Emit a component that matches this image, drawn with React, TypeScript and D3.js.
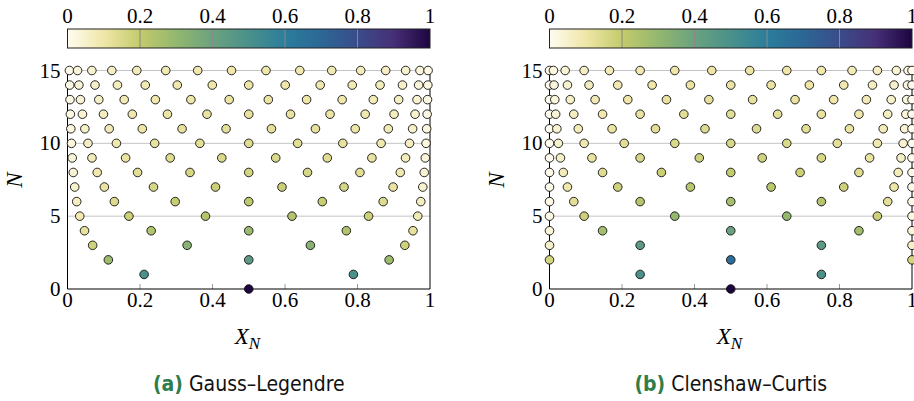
import React from 'react';
import * as d3 from 'd3';

// ---------- data ----------
const xTicks = [0, 0.2, 0.4, 0.6, 0.8, 1];
const yTicks = [0, 5, 10, 15];
const yGrid = [5, 10, 15];
const colorbarTicks = [0, 0.2, 0.4, 0.6, 0.8, 1];
const panelLetters = ['(a)', '(b)'];
const panelTitles = ['Gauss–Legendre', 'Clenshaw–Curtis'];

// Gauss–Legendre nodes on [0,1], row N has N+1 nodes
const glNodes: number[][] = [
  [0.5],
  [0.2113, 0.7887],
  [0.1127, 0.5, 0.8873],
  [0.0694, 0.33, 0.67, 0.9306],
  [0.0469, 0.2308, 0.5, 0.7692, 0.9531],
  [0.0338, 0.1694, 0.3807, 0.6193, 0.8306, 0.9662],
  [0.0254, 0.1292, 0.2971, 0.5, 0.7029, 0.8708, 0.9746],
  [0.0199, 0.1017, 0.2372, 0.4083, 0.5917, 0.7628, 0.8983, 0.9801],
  [0.0159, 0.082, 0.1933, 0.3379, 0.5, 0.6621, 0.8067, 0.918, 0.9841],
  [0.013, 0.0675, 0.1603, 0.2833, 0.4256, 0.5744, 0.7167, 0.8397, 0.9325, 0.987],
  [0.0109, 0.0565, 0.1349, 0.2405, 0.3652, 0.5, 0.6348, 0.7595, 0.8651, 0.9435, 0.9891],
  [0.0092, 0.0479, 0.115, 0.2063, 0.3161, 0.4374, 0.5626, 0.6839, 0.7937, 0.885, 0.9521, 0.9908],
  [0.0079, 0.0412, 0.0992, 0.1788, 0.2758, 0.3848, 0.5, 0.6152, 0.7242, 0.8212, 0.9008, 0.9588, 0.9921],
  [0.0069, 0.0358, 0.0864, 0.1564, 0.2424, 0.3404, 0.446, 0.554, 0.6596, 0.7576, 0.8436, 0.9136, 0.9642, 0.9931],
  [0.006, 0.0314, 0.0759, 0.1378, 0.2145, 0.3029, 0.3994, 0.5, 0.6006, 0.6971, 0.7855, 0.8622, 0.9241, 0.9686, 0.994],
  [0.0053, 0.0277, 0.0672, 0.1223, 0.1911, 0.271, 0.3592, 0.4525, 0.5475, 0.6408, 0.729, 0.8089, 0.8777, 0.9328, 0.9723, 0.9947],
];

const glWeights: number[][] = [
  [1],
  [0.5, 0.5],
  [0.2778, 0.4444, 0.2778],
  [0.1739, 0.3261, 0.3261, 0.1739],
  [0.1185, 0.2393, 0.2844, 0.2393, 0.1185],
  [0.0857, 0.1804, 0.234, 0.234, 0.1804, 0.0857],
  [0.0647, 0.1399, 0.1909, 0.209, 0.1909, 0.1399, 0.0647],
  [0.0506, 0.1112, 0.1569, 0.1813, 0.1813, 0.1569, 0.1112, 0.0506],
  [0.0406, 0.0903, 0.1303, 0.1562, 0.1651, 0.1562, 0.1303, 0.0903, 0.0406],
  [0.0333, 0.0747, 0.1095, 0.1346, 0.1478, 0.1478, 0.1346, 0.1095, 0.0747, 0.0333],
  [0.0278, 0.0628, 0.0931, 0.1166, 0.1314, 0.1365, 0.1314, 0.1166, 0.0931, 0.0628, 0.0278],
  [0.0236, 0.0535, 0.08, 0.1016, 0.1167, 0.1246, 0.1246, 0.1167, 0.1016, 0.08, 0.0535, 0.0236],
  [0.0202, 0.0461, 0.0694, 0.0891, 0.1039, 0.1131, 0.1163, 0.1131, 0.1039, 0.0891, 0.0694, 0.0461, 0.0202],
  [0.0176, 0.0401, 0.0608, 0.0786, 0.0928, 0.1026, 0.1076, 0.1076, 0.1026, 0.0928, 0.0786, 0.0608, 0.0401, 0.0176],
  [0.0154, 0.0352, 0.0536, 0.0698, 0.0831, 0.0931, 0.0992, 0.1013, 0.0992, 0.0931, 0.0831, 0.0698, 0.0536, 0.0352, 0.0154],
  [0.0136, 0.0311, 0.0476, 0.0623, 0.0748, 0.0846, 0.0913, 0.0947, 0.0947, 0.0913, 0.0846, 0.0748, 0.0623, 0.0476, 0.0311, 0.0136],
];

// Clenshaw–Curtis nodes on [0,1]
const ccNodes: number[][] = [
  [0.5],
  [0.25, 0.75],
  [0, 0.5, 1],
  [0, 0.25, 0.75, 1],
  [0, 0.1464, 0.5, 0.8536, 1],
  [0, 0.0955, 0.3455, 0.6545, 0.9045, 1],
  [0, 0.067, 0.25, 0.5, 0.75, 0.933, 1],
  [0, 0.0495, 0.1883, 0.3887, 0.6113, 0.8117, 0.9505, 1],
  [0, 0.0381, 0.1464, 0.3087, 0.5, 0.6913, 0.8536, 0.9619, 1],
  [0, 0.0302, 0.117, 0.25, 0.4132, 0.5868, 0.75, 0.883, 0.9698, 1],
  [0, 0.0245, 0.0955, 0.2061, 0.3455, 0.5, 0.6545, 0.7939, 0.9045, 0.9755, 1],
  [0, 0.0203, 0.0794, 0.1726, 0.2923, 0.4289, 0.5711, 0.7077, 0.8274, 0.9206, 0.9797, 1],
  [0, 0.017, 0.067, 0.1464, 0.25, 0.3706, 0.5, 0.6294, 0.75, 0.8536, 0.933, 0.983, 1],
  [0, 0.0146, 0.0573, 0.1258, 0.216, 0.3227, 0.4397, 0.5603, 0.6773, 0.784, 0.8742, 0.9427, 0.9854, 1],
  [0, 0.0126, 0.0495, 0.1091, 0.1883, 0.2831, 0.3887, 0.5, 0.6113, 0.7169, 0.8117, 0.8909, 0.9505, 0.9874, 1],
  [0, 0.0109, 0.0432, 0.0955, 0.1654, 0.25, 0.3455, 0.4477, 0.5523, 0.6545, 0.75, 0.8346, 0.9045, 0.9568, 0.9891, 1],
];

const ccWeights: number[][] = [
  [1],
  [0.5, 0.5],
  [0.1667, 0.6667, 0.1667],
  [0.0556, 0.4444, 0.4444, 0.0556],
  [0.0333, 0.2667, 0.4, 0.2667, 0.0333],
  [0.02, 0.1804, 0.2996, 0.2996, 0.1804, 0.02],
  [0.0143, 0.127, 0.2286, 0.2603, 0.2286, 0.127, 0.0143],
  [0.0102, 0.0974, 0.1754, 0.2188, 0.2188, 0.1754, 0.0974, 0.0102],
  [0.0079, 0.0751, 0.1388, 0.1814, 0.1963, 0.1814, 0.1388, 0.0751, 0.0079],
  [0.0062, 0.0597, 0.1122, 0.1511, 0.1719, 0.1719, 0.1511, 0.1122, 0.0597, 0.0062],
  [0.0051, 0.0485, 0.0923, 0.1271, 0.1494, 0.1571, 0.1494, 0.1271, 0.0923, 0.0485, 0.0051],
  [0.0041, 0.0402, 0.0772, 0.1079, 0.1299, 0.1413, 0.1413, 0.1299, 0.1079, 0.0772, 0.0402, 0.0041],
  [0.0035, 0.0339, 0.0654, 0.0926, 0.1134, 0.1264, 0.1309, 0.1264, 0.1134, 0.0926, 0.0654, 0.0339, 0.0035],
  [0.003, 0.0289, 0.0561, 0.0801, 0.0994, 0.113, 0.1199, 0.1199, 0.113, 0.0994, 0.0801, 0.0561, 0.0289, 0.003],
  [0.0026, 0.025, 0.0487, 0.07, 0.0877, 0.1011, 0.1094, 0.1122, 0.1094, 0.1011, 0.0877, 0.07, 0.0487, 0.025, 0.0026],
  [0.0022, 0.0218, 0.0426, 0.0615, 0.0778, 0.0907, 0.0996, 0.1041, 0.1041, 0.0996, 0.0907, 0.0778, 0.0615, 0.0426, 0.0218, 0.0022],
];

// ---------- style ----------
const cmapPos = [0, 0.1, 0.2, 0.3, 0.4, 0.5, 0.6, 0.7, 0.8, 0.9, 1];
const cmapCol = ['#fffcf0', '#efe6a8', '#c3cb6c', '#93b76f', '#6aa27f', '#4a918a', '#2b7d9c', '#2c6796', '#3a4c8a', '#472f77', '#1d0540'];
const color = d3.scaleLinear<string>().domain(cmapPos).range(cmapCol).interpolate(d3.interpolateRgb).clamp(true);

const SERIF = '"Liberation Serif", "DejaVu Serif", serif';
const SANS = '"Liberation Sans Narrow", "DejaVu Sans Condensed", "Liberation Sans", sans-serif';

const W = 914;
const H = 401;

type PanelProps = {
  idx: number;
  x0: number;
  x1: number;
  nodes: number[][];
  weights: number[][];
};

function Panel({ idx, x0, x1, nodes, weights }: PanelProps) {
  const x = d3.scaleLinear().domain([0, 1]).range([x0, x1]);
  const y = d3.scaleLinear().domain([0, 15]).range([289, 70.5]);
  const cbY0 = 29;
  const cbY1 = 48;
  const gid = `cbgrad${idx}`;
  const xc = (x0 + x1) / 2;
  return (
    <g>
      <defs>
        <linearGradient id={gid} x1="0" x2="1" y1="0" y2="0">
          {cmapPos.map((p, i) => (
            <stop key={i} offset={`${p * 100}%`} stopColor={cmapCol[i]} />
          ))}
        </linearGradient>
      </defs>
      {/* colorbar */}
      <rect x={x0} y={cbY0} width={x1 - x0} height={cbY1 - cbY0} fill={`url(#${gid})`} />
      {colorbarTicks.slice(1, -1).map((t) => (
        <line key={t} x1={x(t)} x2={x(t)} y1={cbY0} y2={cbY1} stroke="#888" strokeWidth={1} />
      ))}
      <rect x={x0} y={cbY0} width={x1 - x0} height={cbY1 - cbY0} fill="none" stroke="#222" strokeWidth={1} />
      {colorbarTicks.map((t) => (
        <text key={t} x={x(t)} y={23} textAnchor="middle" fontFamily={SERIF} fontSize={21} fill="#000">
          {String(t)}
        </text>
      ))}

      {/* grid */}
      {yGrid.map((g) => (
        <line key={g} x1={x0} x2={x1} y1={y(g)} y2={y(g)} stroke="#c4c4c4" strokeWidth={1} />
      ))}
      {xTicks.slice(1, -1).map((t) => (
        <line key={t} x1={x(t)} x2={x(t)} y1={y(0)} y2={y(0) - 5} stroke="#999" strokeWidth={1} />
      ))}
      {/* frame */}
      <line x1={x0} x2={x0} y1={y(15) - 3} y2={y(0)} stroke="#000" strokeWidth={1} />
      <line x1={x1} x2={x1} y1={y(15) - 3} y2={y(0)} stroke="#000" strokeWidth={1} />
      <line x1={x0} x2={x1} y1={y(0)} y2={y(0)} stroke="#000" strokeWidth={1} />

      {/* tick labels */}
      {xTicks.map((t) => (
        <text key={t} x={x(t)} y={307} textAnchor="middle" fontFamily={SERIF} fontSize={21} fill="#000">
          {String(t)}
        </text>
      ))}
      {yTicks.map((t) => (
        <text key={t} x={x0 - 7} y={y(t) + 7} textAnchor="end" fontFamily={SERIF} fontSize={21} fill="#000">
          {String(t)}
        </text>
      ))}

      {/* axis labels */}
      <text
        transform={`translate(${x0 - 46},${180}) rotate(-90)`}
        textAnchor="middle"
        fontFamily={SERIF}
        fontStyle="italic"
        fontSize={23}
        fill="#000"
      >
        N
      </text>
      <text x={xc - 14} y={344} fontFamily={SERIF} fontStyle="italic" fontSize={23} fill="#000">
        X
        <tspan dy={5} fontSize={17}>N</tspan>
      </text>

      {/* dots */}
      {nodes.map((row, n) => (
        <g key={n}>
          {row.map((v, k) => (
            <circle
              key={k}
              cx={x(v)}
              cy={y(n)}
              r={4.3}
              fill={color(weights[n][k])}
              stroke="#111"
              strokeWidth={0.9}
            />
          ))}
        </g>
      ))}

      {/* caption */}
      <text x={xc} y={391} textAnchor="middle" fontSize={21} fill="#111">
        <tspan fontFamily={SANS} fontWeight="bold" fill="#2f7d4a">{panelLetters[idx]}</tspan>
        <tspan fontFamily={SANS}> {panelTitles[idx]}</tspan>
      </text>
    </g>
  );
}

export default function App() {
  return (
    <svg
      width={W}
      height={H}
      viewBox={`0 0 ${W} ${H}`}
      style={{ position: 'absolute', left: 0, top: 0, display: 'block', background: '#fff' }}
    >
      <rect x={0} y={0} width={W} height={H} fill="#fff" />
      <Panel idx={0} x0={67.5} x1={430} nodes={glNodes} weights={glWeights} />
      <Panel idx={1} x0={549.5} x1={912} nodes={ccNodes} weights={ccWeights} />
    </svg>
  );
}
